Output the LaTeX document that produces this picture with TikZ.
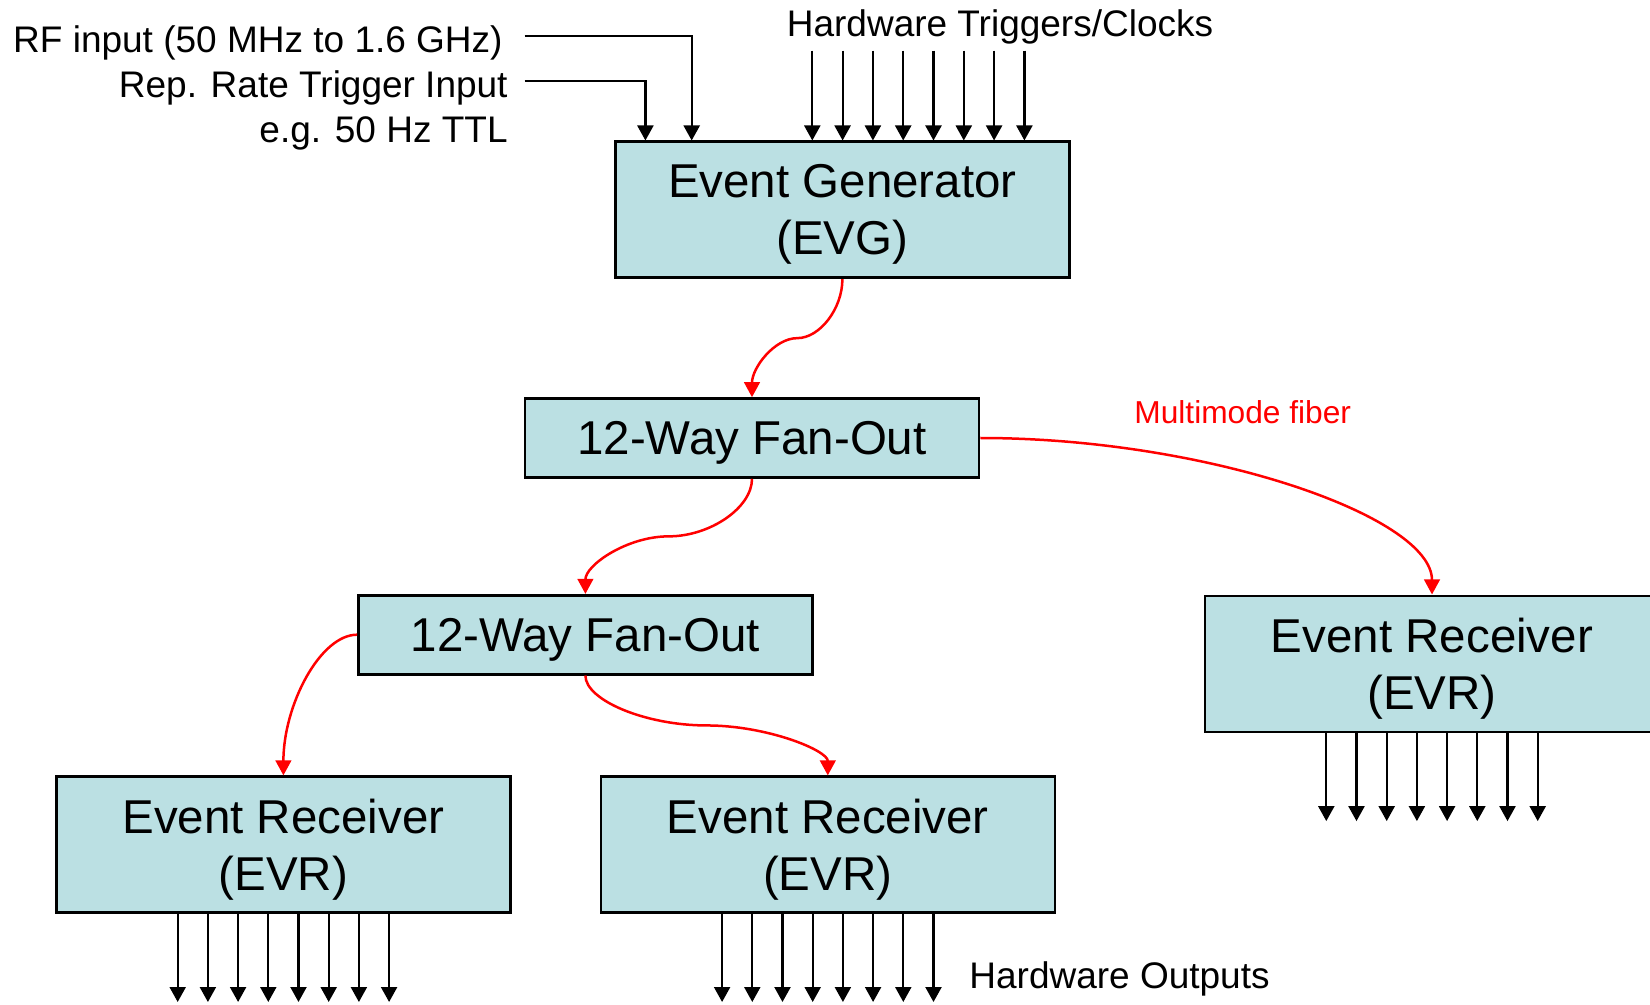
\documentclass[tikz,border=0pt]{standalone}
\usepackage{fontspec}
\setmainfont{Liberation Sans}
\usetikzlibrary{arrows.meta,calc}

\definecolor{boxfill}{RGB}{187,224,227}
\definecolor{fibre}{RGB}{255,0,0}

% S-shaped fibre run: leaves downwards, turns horizontal halfway, enters downwards
\newcommand\fibreS[2]{%
  \draw[fib] let \p1=(#1), \p2=(#2) in
    (\p1) .. controls (\x1,{0.75*\y1+0.25*\y2}) and ({0.75*\x1+0.25*\x2},{0.5*\y1+0.5*\y2})
    .. ({0.5*\x1+0.5*\x2},{0.5*\y1+0.5*\y2})
    .. controls ({0.25*\x1+0.75*\x2},{0.5*\y1+0.5*\y2}) and (\x2,{0.25*\y1+0.75*\y2}) .. (\p2);}
% L-shaped fibre run: leaves horizontally, enters downwards
\newcommand\fibreL[2]{%
  \draw[fib] let \p1=(#1), \p2=(#2) in
    (\p1) .. controls ({0.5*\x1+0.5*\x2},\y1) and (\x2,{0.5*\y1+0.5*\y2}) .. (\p2);}

\begin{document}
\begin{tikzpicture}[x=0.5pt,y=-0.5pt,
  unitbox/.style={draw=black, line width=1.3pt, fill=boxfill, minimum width=227pt,
    inner sep=0pt, align=center, text depth=0pt,
    font=\fontsize{23.75pt}{28.5pt}\selectfont},
  tallbox/.style={unitbox, minimum height=68pt},
  slimbox/.style={unitbox, minimum height=39.5pt},
  sig/.style={line width=1.1pt, -{Triangle[length=7.5pt,width=8pt]}},
  fib/.style={draw=fibre, line width=1.25pt, -{Triangle[length=7.5pt,width=7.8pt]}},
  lbl/.style={inner sep=0pt, font=\fontsize{18.5pt}{22pt}\selectfont},
]
\useasboundingbox (0,0) rectangle (1650,1005);

% units
\node[tallbox] (evg)  at (842.4,209.8) {Event Generator\\(EVG)};
\node[slimbox] (fan1) at (752,438)     {12-Way Fan-Out};
\node[slimbox] (fan2) at (585.4,634.7) {12-Way Fan-Out};
\node[tallbox] (evrl) at (283.4,844.7) {Event Receiver\\(EVR)};
\node[tallbox] (evrm) at (827.8,844.7) {Event Receiver\\(EVR)};
\node[tallbox] (evrr) at (1432,663.8)  {Event Receiver\\(EVR)};

% input labels
\node[lbl, anchor=base east] (rflbl)  at (503,52.5)  {RF input (50 MHz to 1.6 GHz)};
\node[lbl, anchor=base east] (replbl) at (508,97.5)  {Rep. Rate Trigger Input};
\node[lbl, anchor=base east] (ttllbl) at (508,142.5) {e.g. 50 Hz TTL};
\node[lbl, anchor=base]      (hwtrg)  at (1000,36.5) {Hardware Triggers/Clocks};
\node[lbl, anchor=base west] (hwout)  at (969,988)   {Hardware Outputs};
\node[lbl, anchor=base west, text=fibre, font=\fontsize{15.85pt}{19pt}\selectfont]
  (mmf) at (1134,424) {Multimode fiber};

% RF and repetition-rate inputs into the generator
\coordinate (rfin)   at (524.7,35.7);
\coordinate (repin)  at (524.7,80.7);
\coordinate (rfdrop) at (691.7,0);
\coordinate (repdrop) at (645.4,0);
\draw[sig] (rfin)  -| (rfdrop |- evg.north);
\draw[sig] (repin) -| (repdrop |- evg.north);

% hardware trigger inputs
\foreach \i in {0,...,7}{
  \coordinate (trg\i) at ({812.3+30.3*\i},50.7);
  \draw[sig] (trg\i) -- (trg\i |- evg.north);
}

% hardware outputs of each receiver
\foreach \b in {evrl,evrm,evrr}{
  \foreach \i in {0,...,7}{
    \coordinate (\b out\i) at ($(\b.south)+({(\i-3.5)*30.2},88)$);
    \draw[sig] (\b out\i |- \b.south) -- (\b out\i);
  }
}

% fibre distribution
\fibreS{evg.south}{fan1.north}
\fibreS{fan1.south}{fan2.north}
\fibreL{fan1.east}{evrr.north}
\fibreL{fan2.west}{evrl.north}
\fibreS{fan2.south}{evrm.north}
\end{tikzpicture}
\end{document}
